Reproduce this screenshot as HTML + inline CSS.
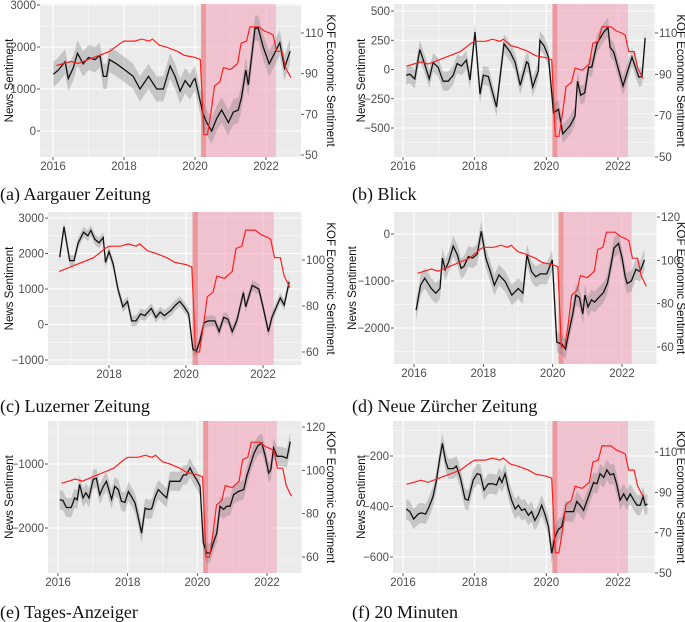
<!DOCTYPE html>
<html><head><meta charset="utf-8"><style>
body{margin:0;background:#fff;}
svg{display:block;}
text{font-family:"Liberation Sans",sans-serif;}
.cap{font-family:"Liberation Serif",serif;font-size:18px;fill:#111;}
</style></head><body>
<svg id="fig" width="685" height="622" viewBox="0 0 685 622"></svg>
<script>
// ---- shared KOF economic sentiment series ----
const kofYears=[2016.1,2016.3,2016.5,2016.7,2017.0,2017.3,2017.6,2017.9,2018.0,2018.3,2018.5,2018.7,2018.8,2019.0,2019.2,2019.5,2019.7,2020.0,2020.15,2020.25,2020.35,2020.45,2020.55,2020.7,2020.8,2021.0,2021.2,2021.3,2021.45,2021.55,2021.8,2021.95,2022.1,2022.2,2022.3,2022.45,2022.55,2022.7];
const kofValues=[94,95,96,95,97,99,101,105,106,106,107,106,107,104,103,101,99,98,97,60,60,71,84,86,93,92,95,105,106,113,113,111,110,109,101,101,93,88];

// ---- news sentiment per outlet ----
const aYears=[2016.01,2016.15,2016.34,2016.43,2016.57,2016.69,2016.85,2017.0,2017.18,2017.32,2017.42,2017.51,2017.59,2017.79,2018.03,2018.26,2018.45,2018.69,2018.92,2019.11,2019.30,2019.44,2019.58,2019.72,2019.86,2019.95,2020.0,2020.23,2020.33,2020.47,2020.61,2020.75,2020.94,2021.08,2021.22,2021.31,2021.43,2021.50,2021.60,2021.69,2021.78,2021.92,2022.09,2022.21,2022.39,2022.52,2022.68];
const aValues=[1350,1450,1650,1250,1500,1850,1600,1750,1700,1800,1300,1300,1700,1600,1450,1300,1000,1300,1000,1000,1550,1300,950,1200,1050,1200,1250,400,200,0,300,500,200,450,500,800,1450,1100,1800,2450,2450,2000,1600,1800,2100,1500,1900];

const bYears=[2016.09,2016.19,2016.33,2016.47,2016.61,2016.73,2016.84,2016.98,2017.12,2017.26,2017.40,2017.51,2017.63,2017.77,2017.87,2018.01,2018.15,2018.24,2018.38,2018.61,2018.82,2018.99,2019.13,2019.27,2019.45,2019.50,2019.62,2019.78,2019.82,2019.94,2020.06,2020.20,2020.34,2020.46,2020.66,2020.80,2020.87,2020.96,2021.07,2021.18,2021.27,2021.41,2021.60,2021.72,2021.78,2021.88,2022.14,2022.39,2022.58,2022.67,2022.76];
const bValues=[-50,-40,-80,170,40,-80,60,20,-100,-100,-50,50,30,80,-90,320,-210,-50,-60,-320,220,150,60,-135,65,50,-150,-10,250,200,105,-370,-340,-550,-480,-400,-100,-220,-200,20,20,220,320,360,190,150,-140,105,-65,-60,270];

const cYears=[2016.72,2016.83,2016.98,2017.09,2017.20,2017.34,2017.45,2017.53,2017.63,2017.74,2017.85,2017.91,2018.0,2018.11,2018.23,2018.36,2018.48,2018.59,2018.70,2018.82,2018.93,2019.10,2019.22,2019.33,2019.44,2019.61,2019.73,2019.84,2019.95,2020.07,2020.18,2020.27,2020.35,2020.47,2020.58,2020.75,2020.86,2020.98,2021.09,2021.20,2021.32,2021.49,2021.55,2021.72,2021.89,2022.0,2022.14,2022.23,2022.45,2022.55,2022.68];
const cValues=[1900,2750,1800,1800,2300,2600,2500,2650,2400,2300,2450,1750,2050,1700,1000,500,650,100,100,300,250,450,200,350,250,400,550,650,500,300,-700,-750,-500,50,100,100,-200,200,150,-200,100,900,500,1100,1000,500,-200,200,750,550,1200];

const dYears=[2016.06,2016.19,2016.31,2016.50,2016.63,2016.75,2016.82,2016.90,2017.0,2017.13,2017.25,2017.36,2017.44,2017.57,2017.69,2017.82,2017.94,2018.07,2018.20,2018.32,2018.45,2018.63,2018.82,2019.01,2019.14,2019.26,2019.39,2019.51,2019.64,2019.83,2019.99,2020.12,2020.27,2020.37,2020.49,2020.58,2020.67,2020.77,2020.87,2020.93,2021.02,2021.12,2021.21,2021.33,2021.46,2021.58,2021.67,2021.77,2021.90,2022.0,2022.09,2022.15,2022.27,2022.40,2022.52,2022.65];
const dValues=[-1620,-1090,-940,-1160,-1260,-1160,-510,-760,-590,-260,-440,-730,-690,-480,-510,-430,60,-510,-800,-1090,-870,-1010,-1300,-1160,-1260,-440,-800,-910,-850,-850,-550,-2300,-2350,-2450,-2000,-1700,-1300,-1350,-1700,-1300,-1550,-1400,-1450,-1350,-1250,-1050,-700,-300,-200,-500,-900,-1050,-1000,-750,-800,-550];

const eYears=[2016.05,2016.14,2016.24,2016.38,2016.48,2016.55,2016.62,2016.72,2016.80,2016.89,2017.01,2017.10,2017.20,2017.30,2017.39,2017.54,2017.63,2017.73,2017.82,2017.92,2018.02,2018.11,2018.21,2018.30,2018.40,2018.50,2018.59,2018.69,2018.78,2018.88,2019.02,2019.12,2019.21,2019.36,2019.50,2019.60,2019.69,2019.79,2019.89,2019.98,2020.08,2020.17,2020.27,2020.37,2020.46,2020.56,2020.65,2020.75,2020.85,2020.94,2021.04,2021.18,2021.33,2021.42,2021.54,2021.63,2021.73,2021.85,2021.95,2022.05,2022.11,2022.19,2022.29,2022.43,2022.57,2022.67];
const eValues=[-1560,-1570,-1680,-1680,-1530,-1560,-1320,-1530,-1450,-1530,-1240,-1220,-1480,-1350,-1270,-1550,-1350,-1400,-1580,-1600,-1430,-1510,-1610,-1820,-2080,-1690,-1710,-1700,-1530,-1400,-1480,-1530,-1270,-1270,-1270,-1170,-1170,-1060,-1170,-1240,-1350,-2230,-2390,-2390,-2230,-2080,-1660,-1710,-1660,-1660,-1480,-1430,-1400,-1190,-980,-830,-720,-670,-880,-1140,-1090,-750,-880,-880,-910,-650];

const fYears=[2016.09,2016.19,2016.30,2016.42,2016.51,2016.63,2016.73,2016.84,2016.93,2017.03,2017.10,2017.19,2017.26,2017.40,2017.49,2017.60,2017.73,2017.82,2017.96,2018.07,2018.16,2018.26,2018.38,2018.50,2018.61,2018.69,2018.76,2018.85,2018.94,2019.03,2019.13,2019.22,2019.31,2019.40,2019.50,2019.59,2019.68,2019.78,2019.87,2019.96,2020.06,2020.15,2020.24,2020.34,2020.43,2020.52,2020.66,2020.76,2020.85,2020.94,2021.04,2021.13,2021.24,2021.32,2021.41,2021.50,2021.60,2021.69,2021.78,2021.88,2021.97,2022.06,2022.16,2022.25,2022.34,2022.44,2022.53,2022.62,2022.70,2022.76,2022.82];
const fValues=[-410,-420,-450,-430,-425,-430,-400,-360,-300,-205,-150,-220,-250,-250,-240,-285,-370,-375,-295,-270,-275,-335,-310,-310,-315,-285,-305,-270,-330,-375,-410,-395,-415,-410,-435,-420,-455,-430,-395,-430,-480,-585,-520,-490,-480,-420,-420,-420,-380,-395,-415,-380,-335,-305,-310,-270,-285,-255,-275,-270,-315,-375,-350,-375,-350,-375,-395,-395,-360,-395,-390];

const bandHalf=[300,80,150,220,150,40];
const leftTicks=[[3000,2000,1000,0],[500,250,0,-250,-500],[3000,2000,1000,0,-1000],[0,-1000,-2000],[-1000,-2000],[-200,-400,-600]];
const rightTicks=[[50,70,90,110],[50,70,90,110],[60,80,100],[60,80,100,120],[60,80,100,120],[50,70,90,110]];
const xTicks=[[2016,2018,2020,2022],[2016,2018,2020,2022],[2018,2020,2022],[2016,2018,2020,2022],[2016,2018,2020,2022],[2016,2018,2020,2022]];
const captions=["(a) Aargauer Zeitung","(b) Blick","(c) Luzerner Zeitung","(d) Neue Zürcher Zeitung","(e) Tages-Anzeiger","(f) 20 Minuten"];
const shockStart=2020.17, shockDarkEnd=2020.31, shockEnd=2022.28;

const series=[[aYears,aValues],[bYears,bValues],[cYears,cValues],[dYears,dValues],[eYears,eValues],[fYears,fValues]];
const geo=[
 {box:[40,4,301,157],x:[2016,53,2022,266],L:[3000,5,0,131],R:[110,33,50,155],cap:[0,200],tx:12},
 {box:[394,4,655,157],x:[2016,403,2022,618],L:[500,11,-500,128],R:[110,33,50,157],cap:[352,200],tx:364},
 {box:[48,212,302,365],x:[2018,109,2022,263],L:[3000,218,-1000,360],R:[100,260,60,352],cap:[0,412],tx:12},
 {box:[394,212,657,364],x:[2016,414,2022,622],L:[0,234,-2000,328],R:[120,217,60,347],cap:[352,412],tx:355},
 {box:[48,421,302,573],x:[2016,58,2022,267],L:[-1000,464,-2000,528],R:[120,427,60,557],cap:[0,618],tx:12},
 {box:[393,421,655,573],x:[2016,403,2022,618],L:[-200,456,-600,557],R:[110,452,50,573],cap:[352,618],tx:364}
];
const NS='http://www.w3.org/2000/svg';
const svg=document.getElementById('fig');
function mk(tag,attrs,parent){const e=document.createElementNS(NS,tag);for(const k in attrs)e.setAttribute(k,attrs[k]);(parent||svg).appendChild(e);return e;}
function lin(a){const [v0,p0,v1,p1]=a;return v=>p0+(v-v0)*(p1-p0)/(v1-v0);}
function inv(a){const [v0,p0,v1,p1]=a;return p=>v0+(p-p0)*(v1-v0)/(p1-p0);}

geo.forEach((g,i)=>{
  const [x0,y0,x1,y1]=g.box;
  const sx=lin(g.x), sl=lin(g.L), sr=lin(g.R);
  const grp=mk('g',{});
  
  
  const clipId='clip'+i;
  const cp=mk('clipPath',{id:clipId},grp);mk('rect',{x:x0,y:y0,width:x1-x0,height:y1-y0},cp);
  const bg=mk('rect',{x:x0,y:y0,width:x1-x0,height:y1-y0,fill:'#ebebeb'},grp);
  
  
  const lt=leftTicks[i];
  const step=lt[0]-lt[1];
  const vTop=inv(g.L)(y0), vBot=inv(g.L)(y1);
  for(let v=Math.ceil(vBot/(step/2))*(step/2); v<=vTop; v+=step/2){
    const major=Math.abs(Math.round(v/step)*step-v)<1e-6;
    mk('line',{x1:x0,x2:x1,y1:sl(v),y2:sl(v),stroke:'#fff','stroke-width':major?1.1:0.5},grp);
  }
  const yStart=Math.ceil(inv(g.x)(x0)), yEnd=inv(g.x)(x1);
  for(let yr=yStart; yr<=yEnd; yr++){
    const major=yr%2===0;
    mk('line',{x1:sx(yr),x2:sx(yr),y1:y0,y2:y1,stroke:'#fff','stroke-width':major?1.1:0.5},grp);
  }
  const sh=mk('rect',{x:sx(shockStart),y:y0,width:sx(shockEnd)-sx(shockStart),height:y1-y0,fill:'#f4a0b8','fill-opacity':0.55},grp);
  
  
  const sh2=mk('rect',{x:sx(shockStart),y:y0,width:sx(shockDarkEnd)-sx(shockStart),height:y1-y0,fill:'#e8706e','fill-opacity':0.5},grp);
  
  
  const [yrs,vals]=series[i];const h=bandHalf[i];
  let up=yrs.map((t,k)=>sx(t).toFixed(1)+','+sl(vals[k]+h).toFixed(1));
  let dn=yrs.map((t,k)=>sx(t).toFixed(1)+','+sl(vals[k]-h).toFixed(1)).reverse();
  const band=mk('polygon',{points:up.concat(dn).join(' '),fill:'#7f7f7f','fill-opacity':0.35,'clip-path':'url(#'+clipId+')'},grp);
  
  
  const nl=mk('polyline',{points:yrs.map((t,k)=>sx(t).toFixed(1)+','+sl(vals[k]).toFixed(1)).join(' '),fill:'none',stroke:'#111','stroke-width':1.3,'clip-path':'url(#'+clipId+')'},grp);
  
  
  const tmin=yrs[0];
  const kpts=[];kofYears.forEach((t,k)=>{if(t>=tmin-0.05)kpts.push(sx(t).toFixed(1)+','+sr(kofValues[k]).toFixed(1));});
  const kl=mk('polyline',{points:kpts.join(' '),fill:'none',stroke:'#ff2020','stroke-width':1.2,'clip-path':'url(#'+clipId+')'},grp);
  
  
  lt.forEach(v=>{
    mk('line',{x1:x0-3,x2:x0,y1:sl(v),y2:sl(v),stroke:'#333','stroke-width':0.8},grp);
    const t=mk('text',{x:x0-4,y:sl(v)+4,'text-anchor':'end','font-size':11.5,fill:'#4d4d4d'},grp);
    t.textContent=v<0?'\u2212'+Math.abs(v):String(v);
    
    
  });
  rightTicks[i].forEach(v=>{
    mk('line',{x1:x1,x2:x1+3,y1:sr(v),y2:sr(v),stroke:'#333','stroke-width':0.8},grp);
    const t=mk('text',{x:x1+4,y:sr(v)+4,'font-size':11.5,fill:'#4d4d4d'},grp);
    t.textContent=String(v);
    
    
  });
  xTicks[i].forEach(v=>{
    mk('line',{x1:sx(v),x2:sx(v),y1:y1,y2:y1+3,stroke:'#333','stroke-width':0.8},grp);
    const t=mk('text',{x:sx(v),y:y1+13,'text-anchor':'middle','font-size':11.5,fill:'#4d4d4d'},grp);
    t.textContent=String(v);
    
    
  });
  const ly=(y0+y1)/2;
  const lt1=mk('text',{x:0,y:0,transform:`translate(${g.tx+1},${ly}) rotate(-90)`,'text-anchor':'middle','font-size':11.5,fill:'#111'},grp);
  lt1.textContent='News Sentiment';
  
  
  const rx=i%2===0?327:677;
  const rt=mk('text',{x:0,y:0,transform:`translate(${rx},${ly}) rotate(90)`,'text-anchor':'middle','font-size':11.5,fill:'#111'},grp);
  rt.textContent='KOF Economic Sentiment';
  
  
  const c=mk('text',{x:g.cap[0],y:g.cap[1],class:'cap'},grp);
  c.textContent=captions[i];
  
  
});
</script>
</body></html>
